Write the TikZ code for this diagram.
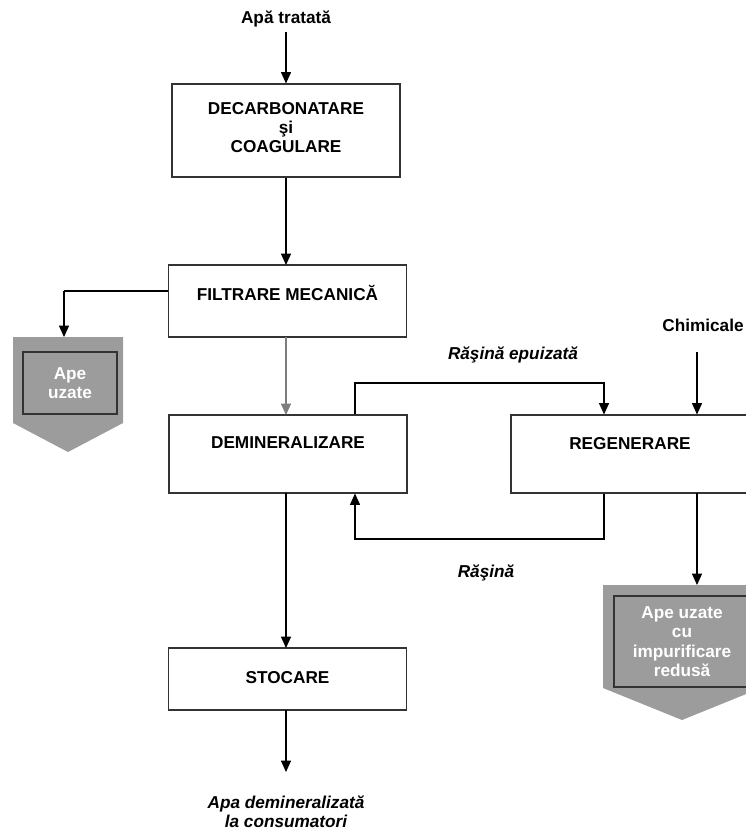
\documentclass[tikz,border=0pt]{standalone}
\usepackage{fontspec}
\setmainfont{Liberation Sans}
\usetikzlibrary{arrows.meta}
\definecolor{boxline}{HTML}{333333}
\definecolor{shade}{HTML}{9C9C9C}
\begin{document}
\begin{tikzpicture}[x=0.75pt,y=-0.75pt,
  font=\fontsize{12.9pt}{14.6pt}\selectfont\bfseries,
  box/.style={draw=boxline,line width=0.8pt,minimum width=178.5pt,inner sep=0pt,align=center},
  lab/.style={align=center,inner sep=0pt},
  ital/.style={lab,font=\fontsize{12.9pt}{14.6pt}\selectfont\bfseries\itshape},
  flow/.style={line width=0.8pt,-{Triangle[width=7.5pt,length=8.5pt]}},
  plain/.style={line width=0.8pt},
  waste/.style={fill=shade,draw=none},
  wastein/.style={draw=boxline,line width=0.8pt},
  wtext/.style={lab,text=white}]
\useasboundingbox (0,0) rectangle (745,834);

% main boxes
\node[box,minimum width=171pt,minimum height=69.75pt,text depth=4.5pt] (decarb) at (286,130.5) {DECARBONATARE\\şi\\COAGULARE};
\node[box,minimum height=54pt,text depth=12pt] (filt) at (287.5,301) {FILTRARE MECANICĂ};
\node[box,minimum height=58.5pt,text depth=16.5pt] (demin) at (288,454) {DEMINERALIZARE};
\node[box,minimum height=58.5pt,text depth=16.5pt] (regen) at (630,454) {REGENERARE};
\node[box,minimum height=46.5pt,text depth=3pt] (stoc) at (287.5,679) {STOCARE};

% texts
\node[lab] (apa) at (286,19) {Apă tratată};
\node[lab] (chim) at (703,325) {Chimicale};
\node[ital] (rep) at (513,355) {Răşină epuizată};
\node[ital] (ras) at (486,573) {Răşină};
\node[ital] (out) at (286,812) {Apa demineralizată\\la consumatori};

% waste shapes
\draw[waste] (13,337) -- (123,337) -- (123,423) -- (68,452) -- (13,423) -- cycle;
\node[wastein,minimum width=70.5pt,minimum height=46.5pt,wtext] (uz1) at (70,383) {Ape\\uzate};
\draw[waste] (603,585) -- (761,585) -- (761,688) -- (682,720) -- (603,688) -- cycle;
\node[wastein,minimum width=102pt,minimum height=68.25pt,wtext] (uz2) at (682,641.5) {Ape uzate\\cu\\impurificare\\redusă};

% coordinates
\coordinate (a1) at (286,32);
\coordinate (s1) at (286,772);
\coordinate (c1) at (697,352);
\coordinate (f1) at (64,291);
\coordinate (l1) at (355,383);
\coordinate (l2) at (604,383);
\coordinate (l3) at (604,539);
\coordinate (l4) at (355,539);

% connectors
\draw[flow] (a1) -- (a1 |- decarb.north);
\draw[flow] (decarb.south -| 286,0) -- (286,265);
\draw[flow,draw=shade!80!black] (286,337) -- (286,415);
\draw[flow] (286,493) -- (286,648);
\draw[flow] (286,710) -- (s1);
\draw[plain] (filt.west |- f1) -- (f1);
\draw[flow] (f1) -- (64,337);
\draw[flow] (c1) -- (c1 |- regen.north);
\draw[flow] (697,493) -- (697,585);
\draw[flow] (l1 |- demin.north) -- (l1) -- (l2) -- (l2 |- regen.north);
\draw[flow] (l3 |- regen.south) -- (l3) -- (l4) -- (l4 |- demin.south);
\end{tikzpicture}
\end{document}
